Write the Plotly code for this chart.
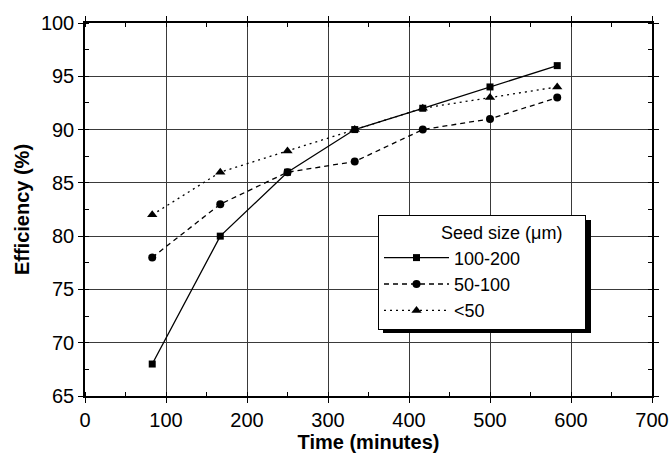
import plotly.graph_objects as go

time_min = [83, 167, 250, 333, 417, 500, 583]
eff_100_200 = [68, 80, 86, 90, 92, 94, 96]
eff_50_100 = [78, 83, 86, 87, 90, 91, 93]
eff_lt50 = [82, 86, 88, 90, 92, 93, 94]

series = [
    ("100-200", eff_100_200, "solid", "square", 7),
    ("50-100", eff_50_100, "5px,4px", "circle", 8),
    ("<50", eff_lt50, "2px,4px", "triangle-up", 9),
]

fig = go.Figure()
for name, vals, dash, sym, sz in series:
    fig.add_trace(go.Scatter(
        x=time_min, y=vals, name=name, mode="lines+markers",
        line=dict(color="black", width=1.3, dash=dash),
        marker=dict(symbol=sym, size=sz, color="black"),
    ))

font = "Liberation Sans, Arial, sans-serif"
axis_common = dict(
    showline=True, linecolor="black", linewidth=1.5, mirror="allticks",
    showgrid=True, gridcolor="#3a3a3a", gridwidth=1,
    ticks="outside", ticklen=5, tickcolor="black", tickwidth=1.2,
    zeroline=False, automargin=False,
    tickfont=dict(family=font, size=20, color="black"),
)
fig.update_xaxes(
    range=[0, 700], dtick=100, tick0=0,
    minor=dict(dtick=50, ticks="inside", ticklen=4, tickcolor="black", showgrid=False),
    title=dict(text="<b>Time (minutes)</b>", font=dict(family=font, size=20, color="black"), standoff=2),
    **axis_common,
)
fig.update_yaxes(
    range=[65, 100], dtick=5, tick0=65,
    minor=dict(dtick=2.5, ticks="inside", ticklen=4, tickcolor="black", showgrid=False),
    title=dict(text="<b>Efficiency (%)</b>", font=dict(family=font, size=20, color="black"), standoff=6),
    **axis_common,
)

# legend shadow (paper coords; plot area 85..652 x, 23..396 y)
pw, ph = 652 - 85, 396 - 23
def px(x):
    return (x - 85) / pw
def py(y):
    return (396 - y) / ph

fig.add_shape(type="rect", xref="paper", yref="paper",
              x0=px(383), x1=px(591), y0=py(333), y1=py(220),
              fillcolor="black", line=dict(width=0), layer="above")

nb = "\u00a0"
fig.update_layout(
    width=672, height=453,
    margin=dict(l=85, r=20, t=23, b=57),
    paper_bgcolor="white", plot_bgcolor="white",
    showlegend=True,
    legend=dict(
        x=px(378), y=py(215), xanchor="left", yanchor="top",
        bgcolor="white", bordercolor="black", borderwidth=1,
        font=dict(family=font, size=18, color="black"),
        title=dict(text=nb * 12 + "Seed size (μm)" + nb * 4, font=dict(family=font, size=18, color="black")),
        itemwidth=65, tracegroupgap=0,
    ),
)

fig.write_html("out.html")
